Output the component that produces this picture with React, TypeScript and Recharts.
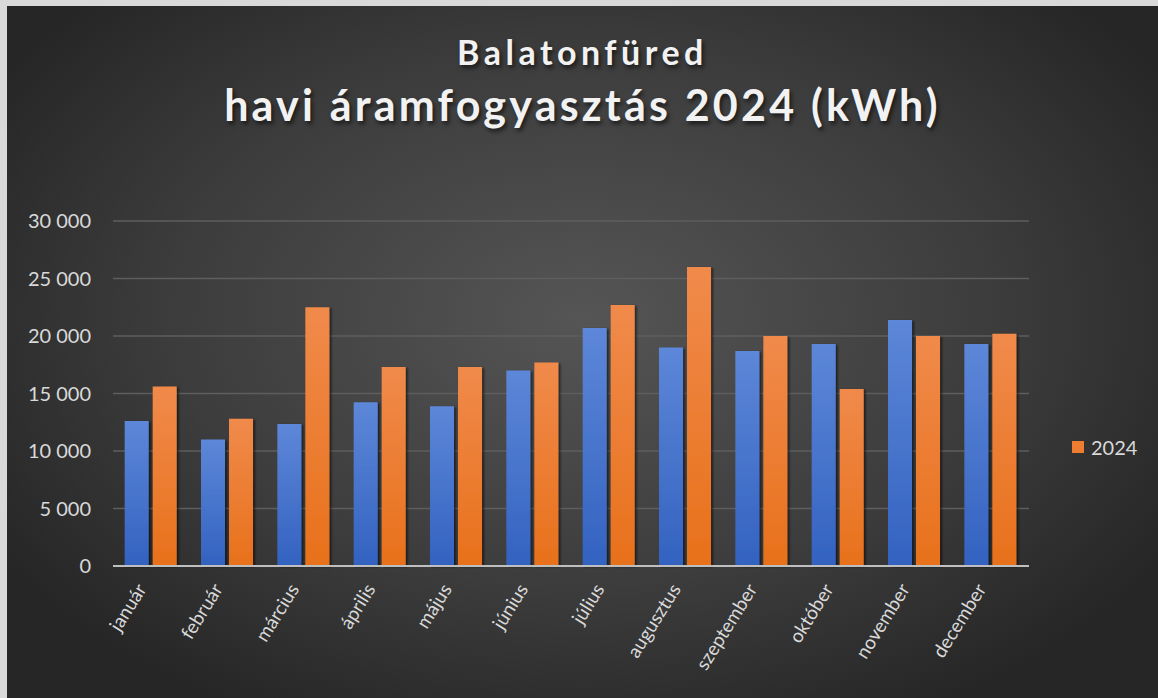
import React from 'react';
import { BarChart, Bar, XAxis, YAxis, CartesianGrid, Legend } from 'recharts';

const months = ['január', 'február', 'március', 'április', 'május', 'június', 'július', 'augusztus', 'szeptember', 'október', 'november', 'december'];
const prevYear = [12600, 11000, 12350, 14250, 13900, 17000, 20700, 19000, 18700, 19300, 21400, 19300];
const year2024 = [15600, 12800, 22500, 17300, 17300, 17700, 22700, 26000, 20000, 15400, 20000, 20200];
const yTicks = [0, 5000, 10000, 15000, 20000, 25000, 30000];
const titleLine1 = 'Balatonfüred';
const titleLine2 = 'havi áramfogyasztás 2024 (kWh)';

const data = months.map((m, i) => ({ month: m, prev: prevYear[i], y2024: year2024[i] }));

const FONT = 'Lato, "Open Sans", sans-serif';

const fmt = (v: number) => {
  if (v === 0) return '0';
  const th = Math.floor(v / 1000);
  const rest = String(v % 1000).padStart(3, '0');
  return `${th} ${rest}`;
};

const XTick = (props: any) => {
  const { x, y, payload } = props;
  const ax = Number(x) - 4;
  const ay = Number(y) + 15;
  return (
    <text
      x={ax}
      y={ay}
      transform={`rotate(-58 ${ax} ${ay})`}
      textAnchor="end"
      fill="#d9d9d9"
      fontSize={19}
      fontFamily={FONT}
    >
      {payload.value}
    </text>
  );
};

const LegendContent = (props: any) => {
  const items = (props.payload || []).filter((p: any) => p.type !== 'none');
  return (
    <div style={{ fontFamily: FONT }}>
      {items.map((p: any) => (
        <div key={p.value} style={{ display: 'flex', alignItems: 'center', height: 22 }}>
          <span style={{ display: 'inline-block', width: 12, height: 12, background: '#ee7d31', marginRight: 7 }} />
          <span style={{ color: '#d9d9d9', fontSize: 20 }}>{p.value}</span>
        </div>
      ))}
    </div>
  );
};

export default function App() {
  const titleBase: React.CSSProperties = {
    position: 'absolute',
    left: 0,
    width: 1151,
    textAlign: 'center',
    color: '#f2f2f2',
    fontFamily: FONT,
    fontWeight: 700,
    whiteSpace: 'nowrap',
    lineHeight: 1,
    textShadow: '2px 3px 4px rgba(0,0,0,0.6)',
  };
  return (
    <div style={{ position: 'fixed', left: 0, top: 0, width: 1158, height: 698, background: '#d9d9d9', overflow: 'hidden' }}>
      <div
        style={{
          position: 'absolute',
          left: 7,
          top: 6,
          width: 1151,
          height: 692,
          background: 'radial-gradient(ellipse 60% 65% at 50% 45%, #555555 0%, #3c3c3c 60%, #262626 100%)',
        }}
      >
        <div style={{ ...titleBase, top: 29, fontSize: 34, letterSpacing: 4.5 }}>{titleLine1}</div>
        <div style={{ ...titleBase, top: 77, fontSize: 43, letterSpacing: 3.2 }}>{titleLine2}</div>
        <BarChart
          width={1151}
          height={692}
          data={data}
          margin={{ top: 215, right: 29, bottom: 0, left: 0 }}
          barCategoryGap="15.3%"
          barGap={4}
        >
          <defs>
            <linearGradient id="gBlue" x1="0" y1="0" x2="0" y2="1">
              <stop offset="0%" stopColor="#5d87d8" />
              <stop offset="100%" stopColor="#3362c0" />
            </linearGradient>
            <linearGradient id="gOrange" x1="0" y1="0" x2="0" y2="1">
              <stop offset="0%" stopColor="#f08a4b" />
              <stop offset="100%" stopColor="#e8711b" />
            </linearGradient>
            <filter id="barShadow" x="-20%" y="-5%" width="140%" height="110%">
              <feDropShadow dx="2" dy="1" stdDeviation="1.2" floodColor="#000" floodOpacity="0.55" />
            </filter>
          </defs>
          <CartesianGrid vertical={false} stroke="#5e5e5e" strokeWidth={1.5} />
          <XAxis
            dataKey="month"
            tick={XTick}
            tickLine={false}
            axisLine={{ stroke: '#bfbfbf', strokeWidth: 2 }}
            height={132}
            interval={0}
          />
          <YAxis
            domain={[0, 30000]}
            ticks={yTicks}
            tickFormatter={fmt}
            tick={{ fill: '#d9d9d9', fontSize: 20, fontFamily: FONT }}
            tickLine={false}
            axisLine={false}
            width={106}
            tickMargin={16}
          />
          <Legend
            layout="vertical"
            align="right"
            verticalAlign="middle"
            width={100}
            content={<LegendContent />}
            wrapperStyle={{ top: 430, left: 1065 }}
          />
          <Bar dataKey="prev" name="2023" fill="url(#gBlue)" legendType="none" filter="url(#barShadow)" isAnimationActive={false} />
          <Bar dataKey="y2024" name="2024" fill="url(#gOrange)" filter="url(#barShadow)" isAnimationActive={false} />
        </BarChart>
      </div>
    </div>
  );
}
